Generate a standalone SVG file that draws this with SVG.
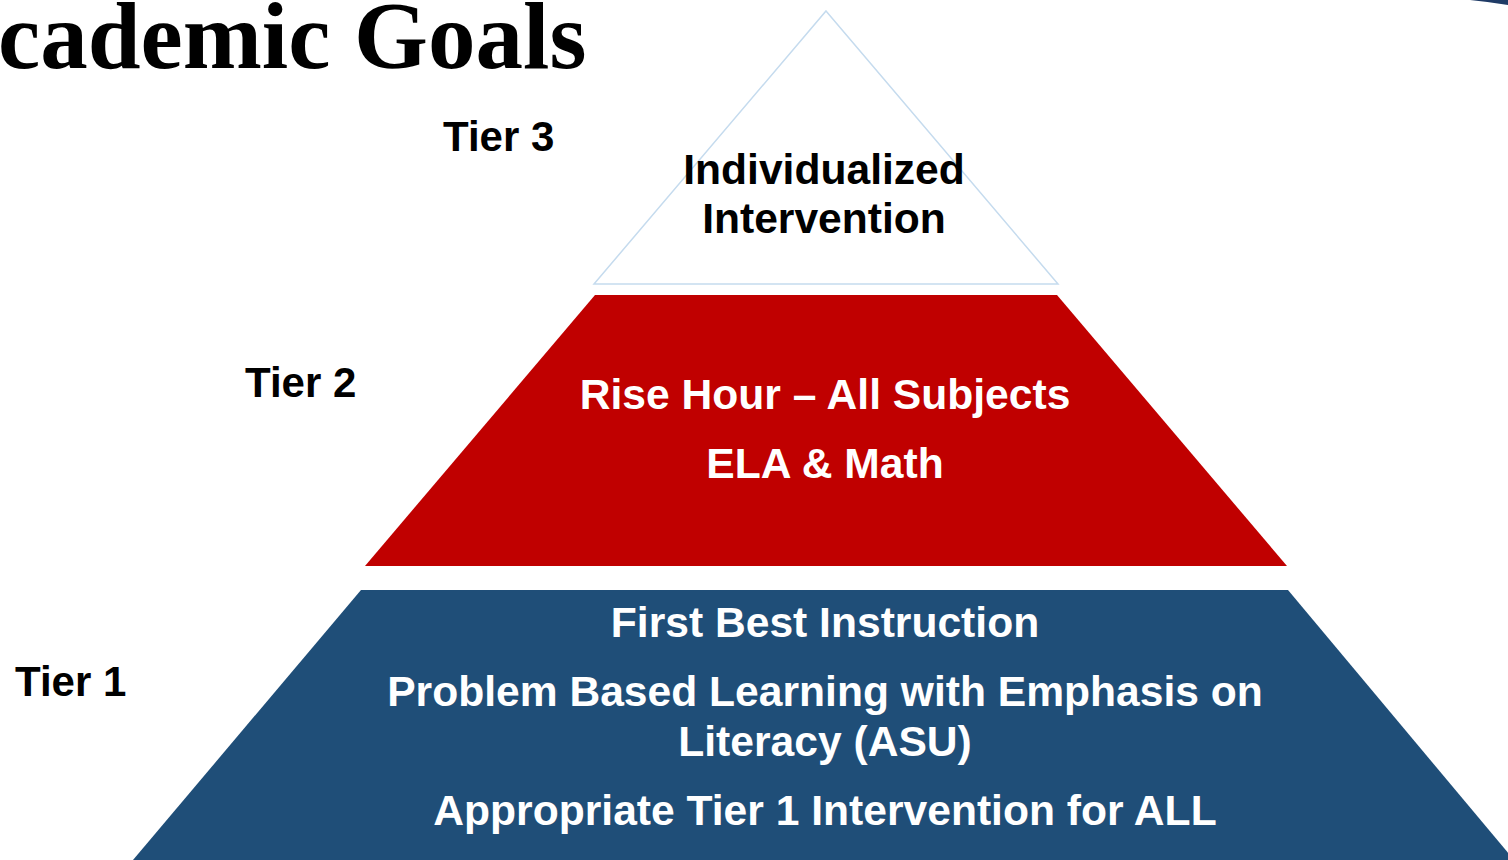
<svg xmlns="http://www.w3.org/2000/svg" width="1508" height="860" viewBox="0 0 1508 860">
<style>
.title{font-family:"Liberation Serif","Times New Roman",serif;font-weight:bold;font-size:95px;fill:#000}
.lbl{font-family:"Liberation Sans",Arial,sans-serif;font-weight:bold;font-size:42px;fill:#000}
.t{font-family:"Liberation Sans",Arial,sans-serif;font-weight:bold;font-size:42.6px;text-anchor:middle}
.w{fill:#fff}
.k{fill:#000}
</style>
<rect width="1508" height="860" fill="#fff"/>
<path d="M1470,0 Q1490,2 1508,5 L1508,0 Z" fill="#1f3b66"/>
<text class="title" x="-2" y="68">cademic Goals</text>
<g id="tier3">
<polygon points="826,11 1058,284 594,284" fill="#fff" stroke="#c5dbee" stroke-width="1.5"/>
<text class="t k" x="824" y="184">Individualized</text>
<text class="t k" x="824" y="233">Intervention</text>
</g>
<g id="tier2">
<polygon points="595,295 1057,295 1287,566 365,566" fill="#c00000"/>
<text class="t w" x="825" y="409">Rise Hour – All Subjects</text>
<text class="t w" x="825" y="478">ELA &amp; Math</text>
</g>
<g id="tier1">
<polygon points="361,590 1288,590 1514,860 133,860" fill="#1f4e78"/>
<text class="t w" x="825" y="637">First Best Instruction</text>
<text class="t w" x="825" y="706">Problem Based Learning with Emphasis on</text>
<text class="t w" x="825" y="756">Literacy (ASU)</text>
<text class="t w" x="825" y="825">Appropriate Tier 1 Intervention for ALL</text>
</g>
<g id="labels">
<text class="lbl" x="443" y="151">Tier 3</text>
<text class="lbl" x="245" y="397">Tier 2</text>
<text class="lbl" x="15" y="696">Tier 1</text>
</g>
<g id="connectors"></g>
</svg>
